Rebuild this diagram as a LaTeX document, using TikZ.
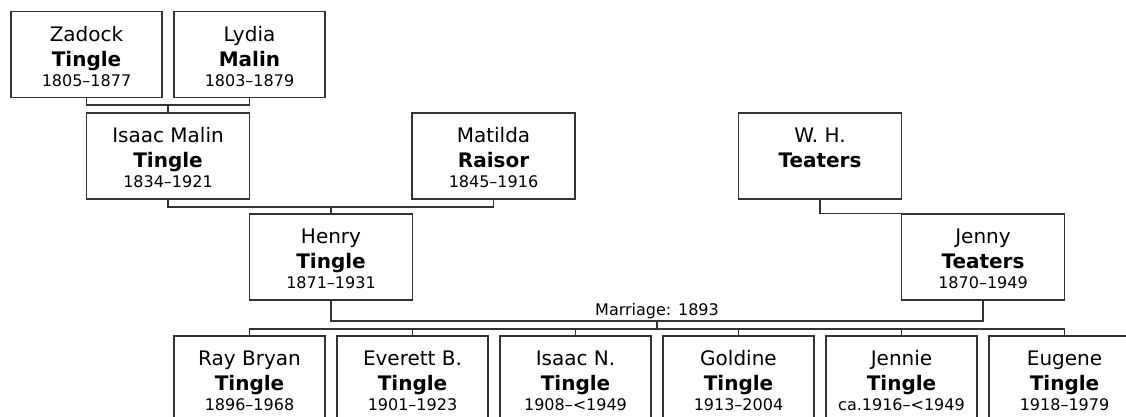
\documentclass[tikz,border=0pt]{standalone}
\usepackage{fontspec}
\setmainfont{DejaVu Sans}

\newcommand{\yr}{\fontsize{16}{19}\selectfont}

\begin{document}
\begin{tikzpicture}[
	x=1pt, y=-1pt,
	p/.style  = {rectangle, draw=black!80, line width=1.4pt, fill=white, align=center,
	             minimum width=151, minimum height=86, inner sep=0pt,
	             font=\fontsize{20}{25}\selectfont},
	pw/.style = {p, minimum width=163},
	l/.style  = {draw=black!80, line width=1.4pt}
	]
	
	\useasboundingbox (0, 0) rectangle (1126, 416);
	\clip (0, 0) rectangle (1126, 416);
	
	% ===== ===== ===== ===== =====
	
	% Nodes
	\node[p]	(zadock)	at	(86.5, 54.5)	{\rule{0pt}{19pt}Zadock\\\textbf{Tingle}\\[-5pt]{\yr 1805--1877}};
	\node[p]	(lydia)		at	(249.5, 54.5)	{\rule{0pt}{19pt}Lydia\\\textbf{Malin}\\[-5pt]{\yr 1803--1879}};
	
	\node[pw]	(isaac)		at	(168, 156)		{\rule{0pt}{19pt}Isaac Malin\\\textbf{Tingle}\\[-5pt]{\yr 1834--1921}};
	\node[pw]	(matilda)	at	(493.5, 156)	{\rule{0pt}{19pt}Matilda\\\textbf{Raisor}\\[-5pt]{\yr 1845--1916}};
	\node[pw]	(wh)		at	(820, 156)		{\rule{0pt}{19pt}W. H.\\\textbf{Teaters}\\[-5pt]{\yr\phantom{1870--1949}}};
	
	\node[pw]	(henry)		at	(331, 257)		{\rule{0pt}{19pt}Henry\\\textbf{Tingle}\\[-5pt]{\yr 1871--1931}};
	\node[pw]	(jenny)		at	(983, 257)		{\rule{0pt}{19pt}Jenny\\\textbf{Teaters}\\[-5pt]{\yr 1870--1949}};
	
	% Lines
	\draw[l]	(zadock.south)	|-	(168, 105)	coordinate	(zl)	-|	(lydia.south);
	\draw[l]	(zl)	--	(isaac.north);
	\draw[l]	(isaac.south)	|-	(331, 207)	coordinate	(im)	-|	(matilda.south);
	\draw[l]	(im)	--	(henry.north);
	\draw[l]	(wh.south)	|-	(jenny.north);
	
	% ===== ===== ===== ===== =====
	
	% Marriage
	\draw[l]	(henry.south)	|-	(657, 321)	coordinate	(hj)	-|	(jenny.south);
	\node[font=\yr, above, inner sep=1.5pt]	(mar)	at	(hj)	{Marriage: 1893};
	
	% Nodes
	\foreach \i/\first/\dates [count=\k from 0] in {
		ray/Ray Bryan/1896--1968,
		everett/Everett B./1901--1923,
		isaacn/Isaac N./1908--<1949,
		goldine/Goldine/1913--2004,
		jennie/Jennie/ca.1916--<1949,
		eugene/Eugene/1918--1979}
	{
		\node[p]	(\i)	at	(249.5 + 163*\k, 379)	{\rule{0pt}{19pt}\first\\\textbf{Tingle}\\[-5pt]{\yr \dates}};
	}
	
	% Lines
	\draw[l]	(hj)	--	(657, 329)	coordinate	(kids);
	\draw[l]	(ray.north)	|-	(kids)	-|	(eugene.north);
	\foreach \i in {everett, isaacn, goldine, jennie}
		\draw[l]	(\i.north)	--	(\i.north |- kids);
	
\end{tikzpicture}
\end{document}
